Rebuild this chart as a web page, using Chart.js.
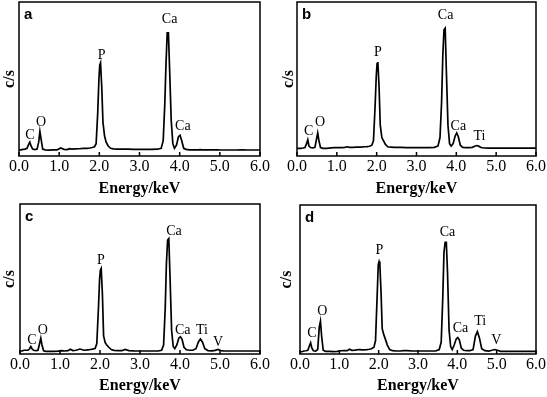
<!DOCTYPE html>
<html lang="en">
<head>
<meta charset="UTF-8">
<title>EDS spectra a-d</title>
<script src="https://cdn.jsdelivr.net/npm/chart.js"></script>
<style>
  body { margin: 0; background: #fff; }
  .panel { position: absolute; }
</style>
</head>
<body>
<div class="panel" style="left:0;top:0;width:273px;height:200px"><canvas id="chartA"></canvas></div>
<div class="panel" style="left:273px;top:0;width:274px;height:200px"><canvas id="chartB"></canvas></div>
<div class="panel" style="left:0;top:200px;width:273px;height:197px"><canvas id="chartC"></canvas></div>
<div class="panel" style="left:273px;top:200px;width:274px;height:197px"><canvas id="chartD"></canvas></div>

<script>
// energy axis (keV), shared by all four spectra
const energy = [
  0.00, 0.05, 0.10, 0.15, 0.20, 0.24, 0.27, 0.30, 0.34, 0.40,
  0.45, 0.49, 0.52, 0.55, 0.59, 0.65, 0.75, 0.85, 0.95, 1.04,
  1.12, 1.20, 1.26, 1.32, 1.40, 1.50, 1.60, 1.70, 1.76, 1.82,
  1.88, 1.92, 1.96, 1.99, 2.01, 2.03, 2.06, 2.09, 2.13, 2.17,
  2.22, 2.28, 2.35, 2.45, 2.55, 2.63, 2.72, 2.85, 3.00, 3.15,
  3.30, 3.45, 3.54, 3.59, 3.63, 3.66, 3.69, 3.72, 3.75, 3.79,
  3.83, 3.87, 3.92, 3.97, 4.01, 4.05, 4.10, 4.16, 4.24, 4.32,
  4.40, 4.46, 4.51, 4.56, 4.62, 4.70, 4.80, 4.88, 4.95, 5.02,
  5.10, 5.25, 5.40, 5.55, 5.70, 5.85, 6.00
];

// counts, as % of the plotted height
const countsA = [
  4.0, 4.0, 4.3, 4.5, 5.0, 7.5, 9.0, 6.5, 4.5, 4.2,
  4.5, 9.0, 16.0, 11.0, 4.5, 4.0, 3.8, 4.0, 4.0, 5.2,
  4.3, 4.2, 4.8, 4.5, 4.6, 4.7, 4.9, 5.0, 5.2, 5.5,
  6.0, 8.0, 28.0, 50.0, 59.0, 60.5, 45.0, 22.0, 13.0, 9.0,
  6.5, 5.0, 4.6, 4.5, 4.4, 4.5, 4.4, 4.3, 4.3, 4.3,
  4.3, 4.4, 5.0, 10.0, 34.0, 60.0, 80.0, 80.0, 56.0, 23.0,
  8.0, 5.0, 7.0, 12.5, 13.5, 10.0, 5.0, 4.3, 4.0, 4.0,
  4.0, 4.0, 4.1, 4.0, 4.0, 4.0, 4.0, 4.0, 4.0, 3.9,
  3.9, 3.9, 3.9, 4.0, 3.9, 3.9, 3.9
];
const countsB = [
  5.0, 5.0, 5.0, 5.2, 5.5, 8.0, 10.5, 6.5, 5.5, 5.2,
  5.6, 11.0, 15.0, 10.0, 5.5, 5.0, 5.0, 5.3, 5.4, 5.5,
  5.5, 5.6, 6.0, 5.6, 5.6, 5.7, 5.8, 6.0, 6.1, 6.3,
  7.0, 10.0, 32.0, 52.0, 60.0, 61.0, 45.0, 20.0, 12.0, 10.0,
  7.5, 6.0, 5.7, 5.6, 5.6, 5.6, 5.5, 5.5, 5.5, 5.5,
  5.5, 5.6, 6.5, 12.0, 35.0, 65.0, 82.0, 83.0, 55.0, 20.0,
  8.0, 6.5, 8.0, 13.0, 15.0, 12.5, 7.0, 5.6, 5.4, 5.4,
  5.6, 6.3, 6.8, 6.4, 5.5, 5.2, 5.1, 5.1, 5.1, 5.1,
  5.1, 5.1, 5.1, 5.1, 5.1, 5.1, 5.1
];
const countsC = [
  2.0, 2.0, 2.5, 2.5, 2.5, 3.5, 5.0, 3.5, 2.5, 2.2,
  2.5, 7.0, 10.5, 6.0, 2.2, 1.8, 1.8, 1.8, 1.9, 2.2,
  2.0, 2.2, 3.2, 2.3, 2.5, 3.3, 2.5, 2.8, 3.0, 3.2,
  3.8, 7.0, 30.0, 50.0, 56.0, 57.0, 40.0, 12.0, 7.5, 6.0,
  4.5, 3.0, 2.4, 2.2, 2.3, 3.0, 2.3, 2.1, 2.0, 2.0,
  2.0, 2.0, 2.5, 6.0, 30.0, 60.0, 76.0, 77.0, 52.0, 16.0,
  5.0, 3.5, 6.0, 10.5, 11.5, 10.0, 4.5, 2.8, 2.5, 2.5,
  3.5, 8.0, 10.0, 8.0, 3.5, 2.3, 2.1, 2.4, 3.0, 2.3,
  2.0, 2.0, 2.0, 2.0, 2.0, 2.0, 2.0
];
const countsD = [
  1.5, 1.5, 2.0, 2.2, 2.5, 5.5, 7.5, 4.0, 2.2, 2.0,
  3.0, 18.0, 22.0, 12.0, 2.5, 1.8, 1.8, 1.6, 1.8, 2.2,
  2.3, 2.2, 3.2, 2.5, 2.6, 3.0, 2.8, 3.0, 3.2, 3.5,
  4.5, 9.0, 38.0, 60.0, 62.0, 60.0, 42.0, 17.0, 13.0, 10.0,
  6.0, 3.0, 2.2, 2.0, 2.0, 2.2, 2.2, 2.0, 2.0, 2.0,
  2.0, 2.0, 3.0, 8.0, 38.0, 68.0, 75.0, 75.0, 55.0, 16.0,
  5.0, 3.0, 6.0, 10.0, 11.0, 9.5, 4.0, 2.5, 2.2, 2.2,
  3.0, 12.0, 15.0, 11.0, 3.5, 2.2, 2.0, 2.5, 3.0, 2.5,
  1.8, 1.8, 1.8, 1.8, 1.8, 1.8, 1.8
];

// x tick labels
const tickLabels = ['0.0', '1.0', '2.0', '3.0', '4.0', '5.0', '6.0'];

// peak labels: [element, energy, counts at text bottom]
const peaksA = [['C', 0.27, 9], ['O', 0.55, 17.5], ['P', 2.06, 61], ['Ca', 3.75, 84], ['Ca', 4.08, 15]];
const peaksB = [['C', 0.29, 11.7], ['O', 0.58, 17], ['P', 2.03, 63], ['Ca', 3.73, 87], ['Ca', 4.05, 15], ['Ti', 4.58, 8]];
const peaksC = [['C', 0.3, 4.7], ['O', 0.57, 11], ['P', 2.02, 58], ['Ca', 3.85, 77], ['Ca', 4.07, 11], ['Ti', 4.55, 11], ['V', 4.95, 3.3]];
const peaksD = [['C', 0.3, 9.4], ['O', 0.57, 24], ['P', 2.02, 65], ['Ca', 3.75, 77], ['Ca', 4.08, 12.8], ['Ti', 4.58, 17], ['V', 4.99, 4.7]];

// frame, inward ticks, peak labels and panel letter
const framePlugin = {
  id: 'frame',
  afterDatasetsDraw(chart, args, opts) {
    const { ctx, chartArea: a, scales: { x, y } } = chart;
    ctx.save();
    ctx.strokeStyle = '#000';
    ctx.fillStyle = '#000';
    ctx.lineWidth = 1.5;
    ctx.strokeRect(a.left, a.top, a.right - a.left, a.bottom - a.top);
    x.ticks.forEach(t => {
      const px = x.getPixelForValue(t.value);
      ctx.beginPath();
      ctx.moveTo(px, a.bottom);
      ctx.lineTo(px, a.bottom - 4);
      ctx.stroke();
    });
    ctx.font = '14px "Liberation Serif"';
    ctx.textAlign = 'center';
    ctx.textBaseline = 'bottom';
    opts.peaks.forEach(([txt, e, c]) => {
      ctx.fillText(txt, x.getPixelForValue(e), y.getPixelForValue(c));
    });
    ctx.font = 'bold 15px "Liberation Sans"';
    ctx.textAlign = 'left';
    ctx.textBaseline = 'top';
    ctx.fillText(opts.letter, a.left + 5, a.top + 5);
    ctx.restore();
  }
};

function makeSpectrum(id, counts, peaks, letter, lay) {
  new Chart(document.getElementById(id), {
    type: 'line',
    data: {
      datasets: [{
        data: energy.map((e, i) => ({ x: e, y: counts[i] })),
        borderColor: '#000',
        borderWidth: 1.7,
        pointRadius: 0,
        tension: 0
      }]
    },
    options: {
      responsive: true,
      maintainAspectRatio: false,
      animation: false,
      layout: { padding: { top: lay.top, right: lay.right, left: 0, bottom: 0 } },
      plugins: {
        legend: { display: false },
        tooltip: { enabled: false },
        frame: { peaks: peaks, letter: letter }
      },
      scales: {
        x: {
          type: 'linear',
          min: 0,
          max: 6,
          afterFit: s => { s.height = lay.xh; },
          grid: { display: false, drawTicks: false },
          border: { display: false },
          ticks: {
            stepSize: 1,
            padding: 1,
            color: '#000',
            font: { family: '"Liberation Serif"', size: 16 },
            callback: (v) => tickLabels[Math.round(v)]
          },
          title: {
            display: true,
            text: 'Energy/keV',
            color: '#000',
            padding: { top: 0, bottom: 2 },
            font: { family: '"Liberation Serif"', size: 16, weight: 'bold' }
          }
        },
        y: {
          min: 0,
          max: 100,
          afterFit: s => { s.width = lay.yw; },
          grid: { display: false, drawTicks: false },
          border: { display: false },
          ticks: { display: false },
          title: {
            display: true,
            text: 'c/s',
            color: '#000',
            padding: { top: lay.tp, bottom: 0 },
            font: { family: '"Liberation Serif"', size: 16, weight: 'bold' }
          }
        }
      }
    },
    plugins: [framePlugin]
  });
}

makeSpectrum('chartA', countsA, peaksA, 'a', { top: 2, right: 13, xh: 44, yw: 19, tp: 0 });
makeSpectrum('chartB', countsB, peaksB, 'b', { top: 2, right: 9, xh: 44, yw: 24, tp: 6 });
makeSpectrum('chartC', countsC, peaksC, 'c', { top: 4, right: 13, xh: 43, yw: 20, tp: 0 });
makeSpectrum('chartD', countsD, peaksD, 'd', { top: 5, right: 9, xh: 43, yw: 27, tp: 4 });
</script>
</body>
</html>
